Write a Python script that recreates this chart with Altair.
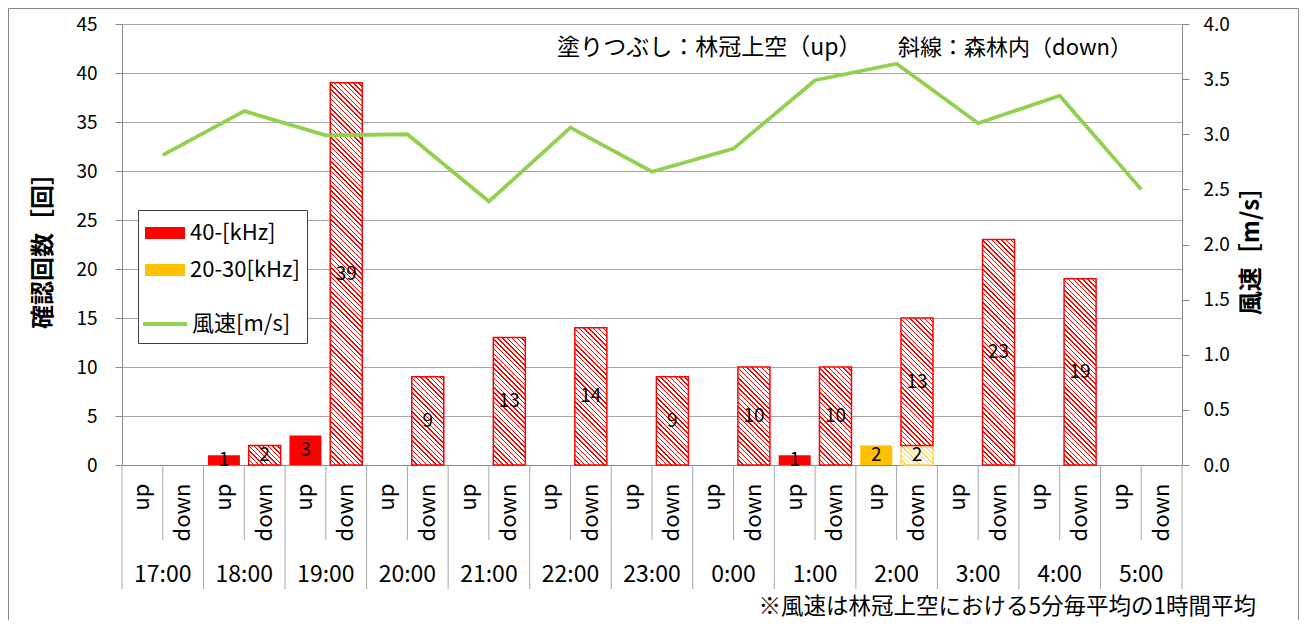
import altair as alt
import pandas as pd

# ---------------- data ----------------
hours = ["17:00", "18:00", "19:00", "20:00", "21:00", "22:00", "23:00",
         "0:00", "1:00", "2:00", "3:00", "4:00", "5:00"]
positions = ["up", "down"]
series_names = ["40-[kHz]", "20-30[kHz]"]
up_40k = [0, 1, 3, 0, 0, 0, 0, 0, 1, 0, 0, 0, 0]
up_20_30k = [0, 0, 0, 0, 0, 0, 0, 0, 0, 2, 0, 0, 0]
down_40k = [0, 2, 39, 9, 13, 14, 9, 10, 10, 13, 23, 19, 0]
down_20_30k = [0, 0, 0, 0, 0, 0, 0, 0, 0, 2, 0, 0, 0]
wind_speed = [2.81, 3.21, 2.99, 3.00, 2.39, 3.06, 2.66, 2.87, 3.49, 3.64, 3.10, 3.35, 2.50]
wind_name = "風速[m/s]"
count_ticks = [0, 5, 10, 15, 20, 25, 30, 35, 40, 45]
wind_ticks = [0.0, 0.5, 1.0, 1.5, 2.0, 2.5, 3.0, 3.5, 4.0]
y_title = "確認回数［回］"
y2_title = "風速［m/s］"
note_fill = "塗りつぶし：林冠上空（up）"
note_hatch = "斜線：森林内（down）"
footnote = "※風速は林冠上空における5分毎平均の1時間平均"

# ---------------- style ----------------
PLOT_W, PLOT_H = 1060, 441
Y_MAX, Y2_MAX = 45, 4.0
BAR_W = 32
FONT = "Noto Sans CJK JP"
RED, ORANGE, GREEN = "#FF0000", "#FFC000", "#92D050"
HATCH_ORANGE = "#FFD34F"
GRID, AXIS = "#A6A6A6", "#898989"

cats = [f"{h}|{p}" for h in hours for p in positions]

rows = []
for i, h in enumerate(hours):
    for pos, vals in (("up", (up_20_30k[i], up_40k[i])),
                      ("down", (down_20_30k[i], down_40k[i]))):
        base = 0
        for name, v in zip([series_names[1], series_names[0]], vals):
            if v > 0:
                rows.append(dict(cat=f"{h}|{pos}", pos=pos, series=name, value=v,
                                 y0=base, y1=base + v, mid=base + v / 2))
                base += v
bars = pd.DataFrame(rows)

wind_df = pd.DataFrame({"cat": [f"{h}|down" for h in hours], "wind": wind_speed,
                        "name": [wind_name] * len(hours)})
hour_df = pd.DataFrame({"cat": [f"{h}|down" for h in hours], "hour": hours})
up_df = pd.DataFrame({"cat": [f"{h}|up" for h in hours]})
down_df = pd.DataFrame({"cat": [f"{h}|down" for h in hours]})
last_df = pd.DataFrame({"cat": [f"{hours[-1]}|down"]})

xscale = alt.Scale(domain=cats, paddingInner=0, paddingOuter=0)
yscale = alt.Scale(domain=[0, Y_MAX], nice=False, zero=True)
y2scale = alt.Scale(domain=[0, Y2_MAX], nice=False, zero=True)

x_axis = alt.Axis(title=None, labelExpr="split(datum.label, '|')[1]", labelAngle=270,
                  labelAlign="right", labelBaseline="middle", labelPadding=18,
                  ticks=False, tickSize=0, labelFontSize=22, labelColor="#000000",
                  domainColor=AXIS, grid=False, labelOverlap=False, labelFont=FONT)
y_axis = alt.Axis(title=y_title, values=count_ticks, grid=True, gridColor=GRID,
                  domainColor=AXIS, tickColor=AXIS, tickSize=7, labelPadding=18,
                  labelFontSize=19, labelColor="#000000", labelFont=FONT,
                  titleFontSize=24, titleFontWeight="bold", titleColor="#000000",
                  titleFont=FONT, titlePadding=20)
y2_axis = alt.Axis(title=y2_title, orient="right", values=wind_ticks, format=".1f",
                   grid=False, domainColor=AXIS, tickColor=AXIS, tickSize=7,
                   labelPadding=14, labelFontSize=19, labelColor="#000000", labelFont=FONT,
                   titleFontSize=24, titleFontWeight="bold", titleColor="#000000",
                   titleFont=FONT, titleAngle=270, titlePadding=34)


def X(band_pos=None):
    if band_pos is None:
        return alt.X("cat:N", scale=xscale, axis=x_axis)
    return alt.X("cat:N", scale=xscale, axis=x_axis, bandPosition=band_pos)


def Y(field):
    return alt.Y(field, scale=yscale, axis=y_axis)


def hatch(color, h_px, w_px=BAR_W, period=4.8, frac=0.3):
    k = (w_px + h_px) / (w_px ** 2 + h_px ** 2)
    n = max(1, round((w_px + h_px) / period))
    stops = []
    for i in range(n):
        a, b, c = i / n, (i + frac) / n, (i + 1) / n
        stops += [{"offset": round(a, 5), "color": color},
                  {"offset": round(b, 5), "color": color},
                  {"offset": round(b, 5), "color": "#FFFFFF"},
                  {"offset": round(c, 5), "color": "#FFFFFF"}]
    return {"gradient": "linear", "x1": 0, "y1": 1,
            "x2": round(k * w_px, 6), "y2": round(1 - k * h_px, 6), "stops": stops}


# solid (up) bars -- colour legend
solid = alt.Chart(bars[bars.pos == "up"]).mark_bar(width=BAR_W).encode(
    x=X(), y=Y("y1:Q"), y2="y0:Q",
    color=alt.Color("series:N", scale=alt.Scale(domain=series_names, range=[RED, ORANGE]),
                    legend=alt.Legend(orient="none", legendX=23, legendY=189, title=None,
                                      symbolType="M-1,-0.3L1,-0.3L1,0.3L-1,0.3Z",
                                      symbolSize=1600, symbolStrokeWidth=0,
                                      labelFontSize=22, labelFont=FONT, labelColor="#000000",
                                      labelOffset=5, rowPadding=6, padding=0)),
)

# hatched (down) bars, one gradient per bar
hatched_layers = []
px_per = PLOT_H / Y_MAX
for _, r in bars[bars.pos == "down"].iterrows():
    col = RED if r.series == series_names[0] else HATCH_ORANGE
    grad = hatch(col, r.value * px_per)
    hatched_layers.append(
        alt.Chart(pd.DataFrame([r.to_dict()])).mark_bar(
            width=BAR_W, fill=grad, stroke=col, strokeWidth=1.5
        ).encode(x=X(), y=Y("y1:Q"), y2="y0:Q")
    )

labels = alt.Chart(bars).mark_text(fontSize=19, font=FONT, color="#000000",
                                   baseline="middle").encode(
    x=X(), y=Y("mid:Q"), text="value:Q")

hour_labels = alt.Chart(hour_df).mark_text(fontSize=23, font=FONT, color="#000000",
                                           baseline="middle").encode(
    x=X(0), y=alt.value(PLOT_H + 110), text="hour:N")

sep_long = alt.Chart(up_df).mark_rule(color=GRID, strokeWidth=1).encode(
    x=X(0), y=alt.value(PLOT_H), y2=alt.value(PLOT_H + 124))
sep_last = alt.Chart(last_df).mark_rule(color=GRID, strokeWidth=1).encode(
    x=X(1), y=alt.value(PLOT_H), y2=alt.value(PLOT_H + 124))
sep_short = alt.Chart(down_df).mark_rule(color=GRID, strokeWidth=1).encode(
    x=X(0), y=alt.value(PLOT_H), y2=alt.value(PLOT_H + 75))

legend_box = alt.Chart(pd.DataFrame({"k": [0]})).mark_rect(
    fill="#FFFFFF", stroke="#404040", strokeWidth=1).encode(
    x=alt.value(16.5), x2=alt.value(185.5), y=alt.value(186.5), y2=alt.value(319.5))

note1 = alt.Chart(pd.DataFrame({"t": [note_fill]})).mark_text(
    fontSize=23, font=FONT, color="#000000", align="left", baseline="middle").encode(
    x=alt.value(435), y=alt.value(24), text="t:N")
note2 = alt.Chart(pd.DataFrame({"t": [note_hatch]})).mark_text(
    fontSize=22, font=FONT, color="#000000", align="right", baseline="middle").encode(
    x=alt.value(1010), y=alt.value(24), text="t:N")
foot = alt.Chart(pd.DataFrame({"t": [footnote]})).mark_text(
    fontSize=22.5, font=FONT, color="#000000", align="right", baseline="middle").encode(
    x=alt.value(1134), y=alt.value(583), text="t:N")

frame_top = alt.Chart(pd.DataFrame({"k": [0]})).mark_rule(color=AXIS, strokeWidth=1).encode(
    x=alt.value(-113.5), x2=alt.value(1176.5), y=alt.value(-15.5))
frame_left = alt.Chart(pd.DataFrame({"k": [0]})).mark_rule(color=AXIS, strokeWidth=1).encode(
    x=alt.value(-113.5), y=alt.value(-15.5), y2=alt.value(600))
frame_right = alt.Chart(pd.DataFrame({"k": [0]})).mark_rule(color=AXIS, strokeWidth=1).encode(
    x=alt.value(1176.5), y=alt.value(-15.5), y2=alt.value(600))

left = alt.layer(solid, *hatched_layers, labels, hour_labels, sep_long, sep_last, sep_short,
                 legend_box, note1, note2, foot, frame_top, frame_left, frame_right)

line = alt.Chart(wind_df).mark_line(strokeWidth=3.8).encode(
    x=X(0),
    y=alt.Y("wind:Q", scale=y2scale, axis=y2_axis),
    stroke=alt.Stroke("name:N", scale=alt.Scale(domain=[wind_name], range=[GREEN]),
                      legend=alt.Legend(orient="none", legendX=19, legendY=276, title=None,
                                        symbolType="stroke", symbolSize=1936,
                                        symbolStrokeWidth=4, labelFontSize=22,
                                        labelFont=FONT, labelColor="#000000",
                                        labelOffset=3, padding=0)),
)

chart = alt.layer(left, line).resolve_scale(y="independent").properties(
    width=PLOT_W, height=PLOT_H,
    padding={"left": 114, "top": 16, "right": 117, "bottom": 155},
    autosize=alt.AutoSizeParams(type="none"),
).configure(font=FONT).configure_view(stroke=None)

chart.save("out.html", embed_options={"renderer": "svg", "actions": False})
